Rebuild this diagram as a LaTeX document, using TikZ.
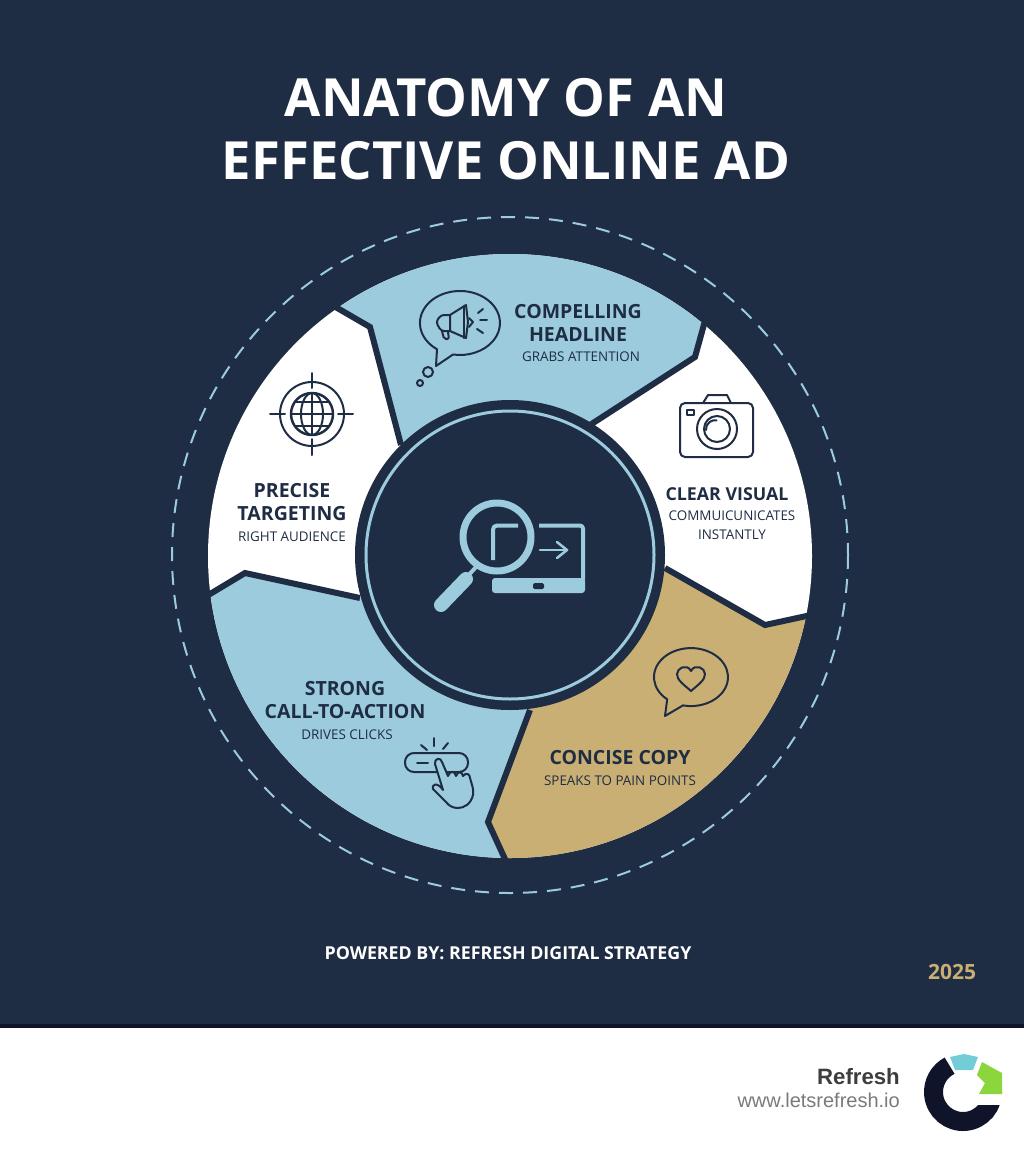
\documentclass[tikz,border=0pt]{standalone}
\usepackage{fontspec}
\setmainfont{Open Sans}
\newfontfamily\logofont{Liberation Sans}
\usetikzlibrary{positioning}
\definecolor{navy}{HTML}{1F2D44}
\definecolor{band}{HTML}{10142B}
\definecolor{sky}{HTML}{9BCBDC}
\definecolor{sand}{HTML}{C9AF73}
\definecolor{logoteal}{HTML}{73CDD6}
\definecolor{logolime}{HTML}{8AD63C}

\begin{document}
\begin{tikzpicture}[
  x=1pt, y=-1pt,
  node distance=10pt and 0pt,
  maintitle/.style={text=white,inner sep=0pt,align=center,font=\fontsize{52.6}{63}\selectfont\bfseries},
  head/.style={text=navy,inner sep=0pt,align=center,font=\fontsize{19.5}{23.5}\selectfont\bfseries},
  sub/.style={text=navy,inner sep=0pt,align=center,font=\fontsize{13.4}{19}\selectfont},
  divider/.style={draw=navy,line width=6pt,line join=miter},
  icon/.style={draw=navy,line width=2pt,line join=round,line cap=round},
  glass/.style={draw=sky,line cap=round,line join=round}
    ]

\useasboundingbox (0,0) rectangle (1024,1154);
\fill[navy] (0,0) rectangle (1024,1024);
\fill[band] (0,1024) rectangle (1024,1028);

% wheel
\begin{scope}
\clip (510,556) circle[radius=302];
\fill[white] (200,240) rectangle (820,870);
\fill[sky] (510,555) -- (401,445) -- (370,327) -- (320,298) -- (320,200) -- (720,200)
  -- (708,310) -- (695,357) -- (590,425) -- cycle;
\fill[sky] (510,555) -- (360,598) -- (245,573) -- (195,603) -- (150,603) -- (150,900)
  -- (510,900) -- (510,870) -- (488,822) -- (530,710) -- cycle;
\fill[sand] (510,555) -- (530,710) -- (488,822) -- (510,870) -- (510,900) -- (900,900)
  -- (900,612) -- (825,612) -- (765,625) -- (665,568) -- cycle;
\end{scope}
\draw[divider] (320,298) -- (370,327) -- (401,445);
\draw[divider] (708,310) -- (695,357) -- (590,425);
\draw[divider] (665,568) -- (765,625) -- (825,612);
\draw[divider] (530,710) -- (488,822) -- (510,870);
\draw[divider] (360,598) -- (245,573) -- (195,603);
\draw[sky,line width=2pt,dash pattern=on 14pt off 10pt] (510,555) circle[radius=338];
\fill[navy] (510,555) circle[radius=155];
\draw[sky,line width=3pt] (510,555) circle[radius=144];

% centre icon
\fill[sky,rounded corners=3pt] (492,578) rectangle (585,593);
\fill[navy,rounded corners=1.5pt] (533,583) rectangle (544,589);
\draw[glass,line width=4pt,line cap=butt,rounded corners=3pt] (539,525.5) -- (583,525.5) -- (583,580);
\draw[glass,line width=4pt,line cap=butt,rounded corners=4pt] (493,560) -- (493,525.5) -- (518,525.5);
\draw[glass,line width=2.5pt] (540,550) -- (567,550);
\draw[glass,line width=2.5pt] (557,542) -- (567,550) -- (557,558);
\draw[glass,line width=7pt] (497,537) circle[radius=34];
\draw[glass,line width=4pt,line cap=butt] (476,567) -- (466,578);
\draw[glass,line width=14pt] (466,579) -- (441,605);

% megaphone
\draw[icon] (437,349.2) arc[start angle=125,end angle=460,x radius=40,y radius=32] -- (436,366) -- cycle;
\draw[icon] (428,372) circle[radius=5];
\draw[icon] (420,383) circle[radius=3];
\draw[icon,rounded corners=3pt] (450,315) -- (441,315) -- (436,322) -- (441,331) -- (450,331);
\draw[icon] (450,315) -- (466,305) -- (468,322) -- (466,338) -- (450,331) -- cycle;
\draw[icon] (464,306) -- (464,338);
\draw[icon,rounded corners=2pt] (442,331) -- (444,339) -- (449,339) -- (448,332);
\draw[icon] (469,318) -- (473,322) -- (469,327);
\draw[icon] (478,313) -- (483,309);
\draw[icon] (480,320) -- (487,320);
\draw[icon] (477,329) -- (483,333);

% globe
\draw[icon] (312,414) circle[radius=32];
\draw[icon,line width=2.5pt] (312,414) circle[radius=21];
\draw[icon] (312,414) ellipse[x radius=11,y radius=21];
\draw[icon] (312,393) -- (312,435);
\draw[icon] (291,414) -- (333,414);
\draw[icon] (295,402) -- (329,402);
\draw[icon] (295,426) -- (329,426);
\draw[icon] (312,373) -- (312,388);
\draw[icon] (312,439) -- (312,455);
\draw[icon] (270,414) -- (285,414);
\draw[icon] (338,414) -- (353,414);

% camera
\draw[icon,rounded corners=5pt] (680,403) rectangle (753,457);
\draw[icon] (703,403) -- (708,395) -- (727,395) -- (731,403);
\draw[icon] (687,410) rectangle (694,415);
\draw[icon] (717,429) circle[radius=20];
\draw[icon] (717,429) circle[radius=13];
\draw[icon] (706,430) arc[start angle=175,end angle=280,radius=9];

% heart bubble
\draw[icon] (667.2,699.3) arc[start angle=130,end angle=462.5,x radius=37,y radius=29] -- (665,716) -- cycle;
\draw[icon] (691,691) .. controls (683,684) and (677,680) .. (677,674) .. controls (677,668) and (687,663) .. (691,671)
  .. controls (695,663) and (705,668) .. (705,674) .. controls (705,680) and (699,684) .. (691,691) -- cycle;

% button and hand
\draw[icon,rounded corners=9pt] (405,753) rectangle (468,772);
\draw[icon] (417,763) -- (428,763);
\draw[icon] (434,738) -- (434,746);
\draw[icon] (421,745) -- (427,750);
\draw[icon] (448,743) -- (443,749);
\draw[icon,fill=sky] (443,790) -- (435,764) .. controls (434,758) and (441,757) .. (442,762) -- (448,776)
  .. controls (450,770) and (455,771) .. (456,776) .. controls (458,771) and (462,771) .. (463,776)
  .. controls (466,772) and (470,774) .. (470,778) .. controls (472,785) and (474,790) .. (473,795)
  .. controls (471,804) and (464,808) .. (458,808) .. controls (453,808) and (449,806) .. (446,802)
  -- (433,789) .. controls (431,785) and (437,781) .. (443,790) -- cycle;

% labels
\node[maintitle] (title) at (506,129) {ANATOMY OF AN\\EFFECTIVE ONLINE AD};
\node[head] (headline) at (578,323) {COMPELLING\\HEADLINE};
\node[sub,below=of headline,xshift=3pt] (headlinesub) {GRABS ATTENTION};
\node[head,font=\fontsize{17.8}{23.5}\selectfont\bfseries] (visual) at (727,494) {CLEAR VISUAL};
\node[sub,below=of visual,xshift=5pt] (visualsub) {COMMUICUNICATES\\INSTANTLY};
\node[head] (copy) at (620,758) {CONCISE COPY};
\node[sub,below=of copy] (copysub) {SPEAKS TO PAIN POINTS};
\node[head] (action) at (345,700) {STRONG\\CALL-TO-ACTION};
\node[sub,below=of action,xshift=2pt] (actionsub) {DRIVES CLICKS};
\node[head] (target) at (292,502) {PRECISE\\TARGETING};
\node[sub,below=of target] (targetsub) {RIGHT AUDIENCE};
\node[inner sep=0pt,text=white,font=\fontsize{17.8}{22}\selectfont\bfseries] (powered) at (508,953) {POWERED BY: REFRESH DIGITAL STRATEGY};
\node[inner sep=0pt,text=sand,font=\fontsize{21}{25}\selectfont\bfseries] (year) at (952,972) {2025};
\node[inner sep=0pt,anchor=east,text=black!76,font=\logofont\fontsize{22.2}{28}\selectfont\bfseries] (brand) at (900,1077) {Refresh};
\node[inner sep=0pt,text=black!52,font=\logofont\fontsize{20}{24}\selectfont,below=7pt of brand.south east,anchor=north east] (site) {www.letsrefresh.io};

% logo
\begin{scope}
\clip (923,1050) rectangle (1002,1135);
\draw[band,line width=19pt] (963,1092) ++(-5:29.5) arc[start angle=-5,end angle=243,radius=29.5];
\fill[white] (975,1085) rectangle (1003,1105);
\fill[logoteal] (950,1057) -- (964,1054) -- (978,1057) -- (973,1070) -- (955,1070) -- cycle;
\fill[logolime] (982,1062) -- (1002,1073) -- (1002,1094) -- (979,1094) -- (985,1083) -- (977,1075) -- cycle;
\end{scope}
\end{tikzpicture}
\end{document}
